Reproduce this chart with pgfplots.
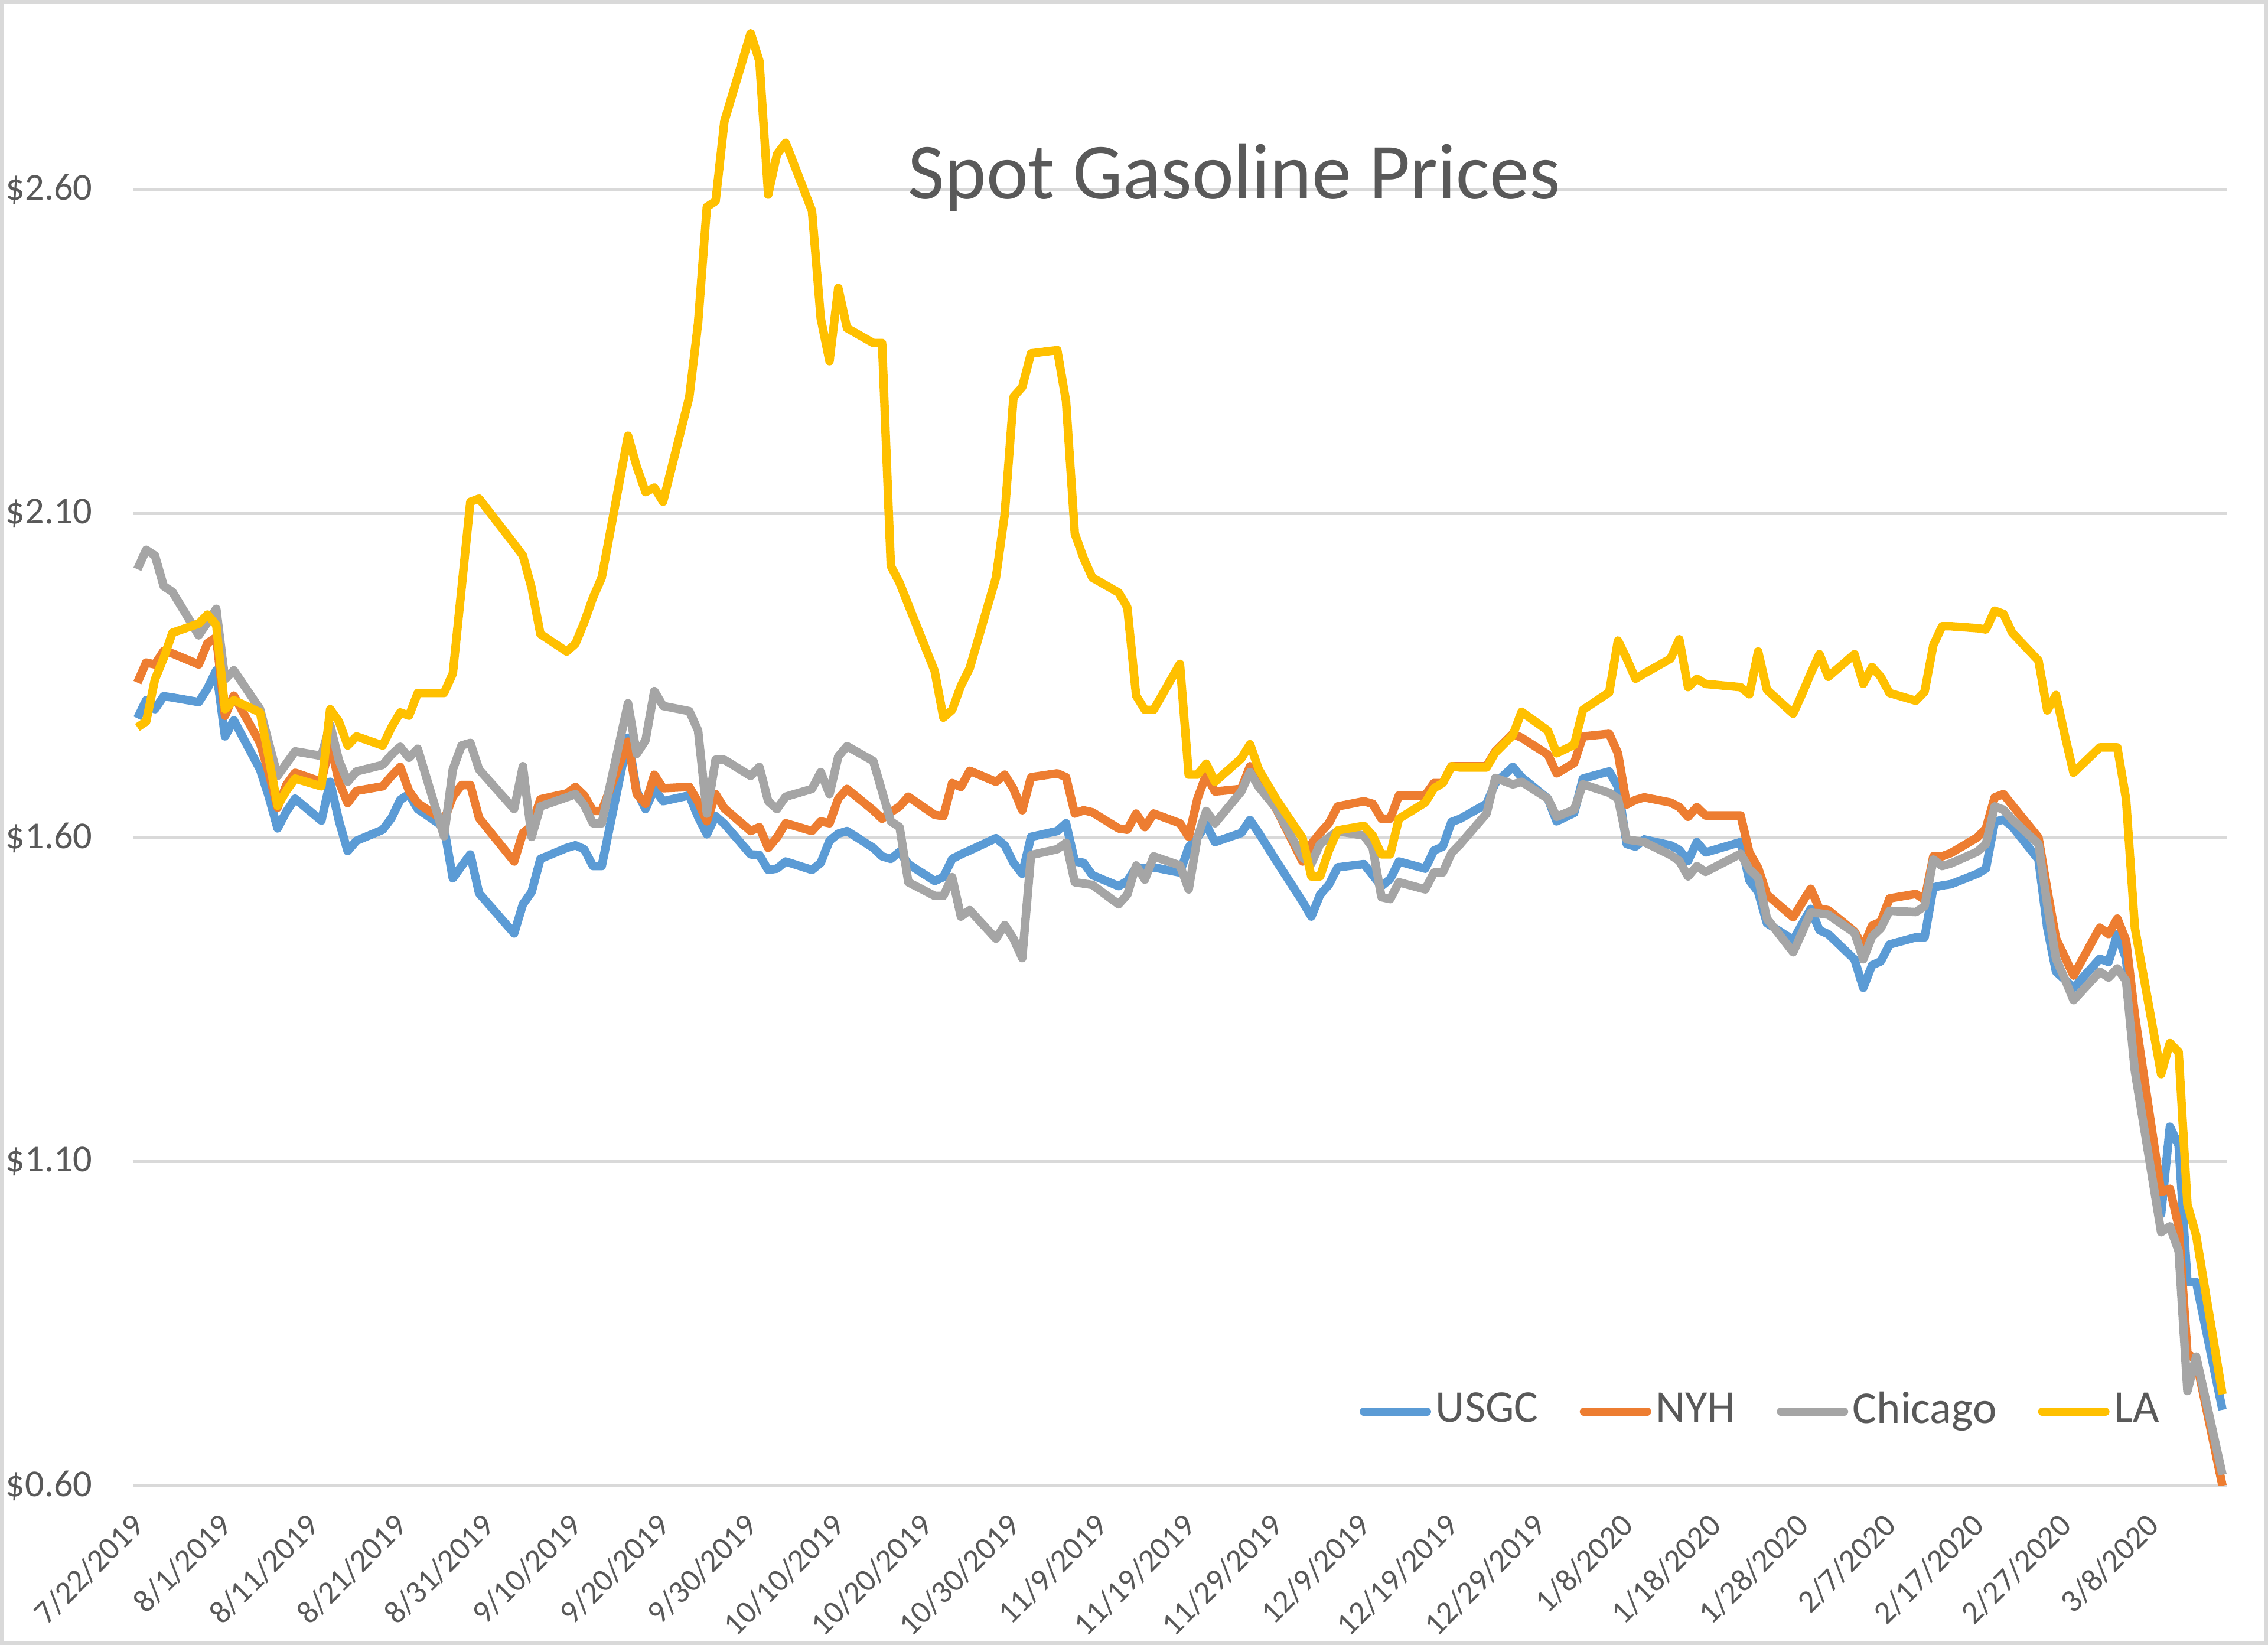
\documentclass[border=0pt]{standalone}
\usepackage{fontspec}
\setmainfont{Carlito}
\usepackage{pgfplots}
\usepackage{pgfplotstable}
\pgfplotsset{compat=1.18}
\definecolor{cUSGC}{HTML}{5B9BD5}
\definecolor{cNYH}{HTML}{ED7D31}
\definecolor{cCHI}{HTML}{A5A5A5}
\definecolor{cLA}{HTML}{FFC000}
\definecolor{txtc}{HTML}{595959}
\definecolor{gridc}{HTML}{D9D9D9}

\pgfplotstableread{
day usgc nyh chi la
0 1.784 1.839 2.014 1.770
1 1.812 1.870 2.044 1.779
2 1.798 1.867 2.035 1.844
3 1.818 1.888 1.988 1.877
4 1.816 1.884 1.979 1.916
7 1.809 1.867 1.912 1.930
8 1.830 1.900 1.932 1.944
9 1.858 1.909 1.953 1.928
10 1.756 1.788 1.844 1.798
11 1.781 1.819 1.858 1.812
14 1.705 1.746 1.798 1.793
15 1.663 1.700 1.746 1.723
16 1.614 1.646 1.695 1.649
17 1.640 1.681 1.714 1.672
18 1.660 1.700 1.733 1.691
21 1.626 1.686 1.726 1.679
22 1.686 1.746 1.774 1.798
23 1.626 1.686 1.719 1.779
24 1.579 1.653 1.686 1.742
25 1.595 1.672 1.702 1.756
28 1.612 1.679 1.712 1.742
29 1.630 1.695 1.728 1.770
30 1.658 1.709 1.740 1.793
31 1.667 1.672 1.723 1.788
32 1.644 1.653 1.737 1.823
35 1.616 1.626 1.602 1.823
36 1.537 1.663 1.705 1.853
37 1.556 1.681 1.742 1.985
38 1.574 1.681 1.746 2.118
39 1.514 1.630 1.705 2.123
43 1.452 1.563 1.644 2.053
44 1.497 1.607 1.710 2.035
45 1.516 1.618 1.601 1.985
46 1.567 1.659 1.648 1.914
49 1.584 1.668 1.662 1.887
50 1.588 1.678 1.667 1.899
51 1.582 1.665 1.650 1.932
52 1.556 1.641 1.622 1.970
53 1.556 1.641 1.622 2.001
56 1.754 1.748 1.807 2.220
57 1.671 1.667 1.729 2.172
58 1.644 1.652 1.750 2.133
59 1.675 1.697 1.826 2.140
60 1.656 1.676 1.803 2.118
63 1.665 1.678 1.795 2.280
64 1.632 1.655 1.765 2.394
65 1.605 1.625 1.637 2.573
66 1.633 1.667 1.720 2.582
67 1.621 1.645 1.720 2.705
70 1.574 1.610 1.695 2.841
71 1.573 1.616 1.709 2.798
72 1.550 1.584 1.656 2.592
73 1.552 1.600 1.644 2.654
74 1.563 1.622 1.663 2.672
77 1.550 1.610 1.675 2.567
78 1.561 1.625 1.701 2.401
79 1.595 1.622 1.667 2.335
80 1.606 1.660 1.725 2.448
81 1.610 1.675 1.741 2.386
84 1.584 1.642 1.718 2.363
85 1.571 1.629 1.671 2.363
86 1.567 1.639 1.625 2.019
87 1.578 1.648 1.616 1.993
88 1.559 1.663 1.531 1.959
91 1.533 1.635 1.510 1.857
92 1.539 1.633 1.510 1.785
93 1.567 1.684 1.539 1.797
94 1.574 1.678 1.478 1.834
95 1.580 1.703 1.488 1.861
98 1.599 1.686 1.444 2.001
99 1.588 1.697 1.465 2.099
100 1.561 1.675 1.444 2.280
101 1.544 1.642 1.414 2.295
102 1.601 1.693 1.573 2.347
105 1.610 1.699 1.582 2.352
106 1.622 1.693 1.592 2.273
107 1.563 1.637 1.531 2.069
108 1.561 1.642 1.529 2.031
109 1.542 1.639 1.527 2.001
112 1.525 1.614 1.497 1.978
113 1.533 1.612 1.512 1.955
114 1.554 1.637 1.557 1.819
115 1.552 1.616 1.535 1.797
116 1.554 1.637 1.571 1.797
119 1.546 1.622 1.557 1.868
120 1.585 1.601 1.520 1.697
121 1.600 1.660 1.600 1.697
122 1.620 1.697 1.641 1.714
123 1.593 1.671 1.622 1.686
126 1.607 1.675 1.671 1.722
127 1.627 1.710 1.701 1.744
128 1.607 1.686 1.678 1.705
130 1.564 1.644 1.645 1.659
133 1.501 1.563 1.569 1.599
134 1.478 1.590 1.560 1.540
135 1.512 1.607 1.590 1.540
136 1.527 1.622 1.600 1.580
137 1.554 1.648 1.610 1.611
140 1.559 1.656 1.603 1.618
141 1.542 1.652 1.584 1.603
142 1.525 1.629 1.508 1.574
143 1.536 1.629 1.505 1.574
144 1.563 1.665 1.531 1.629
147 1.552 1.665 1.520 1.654
148 1.580 1.684 1.546 1.676
149 1.586 1.684 1.546 1.684
150 1.624 1.710 1.576 1.710
151 1.629 1.710 1.590 1.708
154 1.652 1.710 1.637 1.708
155 1.684 1.733 1.692 1.731
157 1.709 1.760 1.682 1.758
158 1.693 1.754 1.686 1.794
161 1.660 1.728 1.660 1.765
162 1.625 1.699 1.632 1.730
164 1.638 1.715 1.643 1.743
165 1.691 1.756 1.682 1.797
168 1.702 1.760 1.669 1.824
169 1.678 1.730 1.660 1.904
170 1.590 1.651 1.597 1.876
171 1.586 1.658 1.595 1.845
172 1.597 1.662 1.593 1.853
175 1.588 1.654 1.573 1.876
176 1.581 1.647 1.564 1.906
177 1.564 1.632 1.540 1.832
178 1.593 1.647 1.556 1.845
179 1.577 1.634 1.547 1.837
183 1.593 1.634 1.575 1.832
184 1.534 1.577 1.551 1.821
185 1.516 1.553 1.538 1.887
186 1.468 1.512 1.475 1.828
189 1.442 1.477 1.423 1.791
190 1.466 1.499 1.453 1.821
191 1.490 1.521 1.484 1.853
192 1.457 1.490 1.483 1.883
193 1.451 1.488 1.481 1.848
196 1.412 1.455 1.453 1.883
197 1.368 1.431 1.412 1.837
198 1.403 1.464 1.447 1.863
199 1.409 1.470 1.460 1.848
200 1.435 1.506 1.487 1.823
203 1.446 1.513 1.485 1.811
204 1.446 1.504 1.494 1.825
205 1.523 1.571 1.566 1.897
206 1.526 1.571 1.556 1.926
207 1.528 1.576 1.560 1.926
210 1.544 1.600 1.578 1.923
211 1.552 1.614 1.590 1.921
212 1.624 1.662 1.648 1.950
213 1.628 1.667 1.643 1.945
214 1.617 1.650 1.628 1.916
217 1.566 1.600 1.590 1.873
218 1.461 1.520 1.497 1.796
219 1.393 1.444 1.413 1.820
220 1.381 1.416 1.382 1.758
221 1.368 1.387 1.349 1.700
224 1.413 1.461 1.393 1.739
225 1.408 1.451 1.384 1.739
226 1.451 1.475 1.398 1.739
227 1.413 1.441 1.379 1.659
228 1.259 1.326 1.240 1.461
231 1.019 1.053 0.991 1.235
232 1.154 1.058 1.000 1.283
233 1.125 1.000 0.962 1.269
234 0.914 0.804 0.746 1.034
235 0.914 0.794 0.799 0.986
238 0.717 0.600 0.617 0.741
}\gas

\begin{document}
\begin{tikzpicture}
\begin{axis}[
  name=ax,
  at={(0pt,0pt)}, anchor=south west,
  scale only axis,
  width=369.4pt, height=260.6pt,
  xmin=-0.54, xmax=238.54, ymin=0.6, ymax=2.88,
  axis line style={draw=none},
  major tick length=0pt,
  ytick={0.6,1.1,1.6,2.1,2.6},
  yticklabels={\$0.60,\$1.10,\$1.60,\$2.10,\$2.60},
  xtick={0,10,...,230},
  xticklabels={7/22/2019,8/1/2019,8/11/2019,8/21/2019,8/31/2019,9/10/2019,9/20/2019,9/30/2019,10/10/2019,10/20/2019,10/30/2019,11/9/2019,11/19/2019,11/29/2019,12/9/2019,12/19/2019,12/29/2019,1/8/2020,1/18/2020,1/28/2020,2/7/2020,2/17/2020,2/27/2020,3/8/2020},
  ymajorgrids,
  grid style={gridc, line width=0.6pt},
  yticklabel style={font=\fontsize{6.7}{8}\selectfont, text=txtc, anchor=east, inner sep=0pt, xshift=-6.9pt},
  xticklabel style={font=\fontsize{5.7}{6.8}\selectfont, text=txtc, inner sep=0pt, anchor=east, xshift=0.3pt, yshift=-5.9pt, rotate=45},
  legend style={at={(0.7778,0.05)}, anchor=center, draw=none, fill=none,
    legend columns=4, font=\fontsize{8}{9.6}\selectfont, text=txtc,
    inner sep=0pt, nodes={inner sep=0.8pt},
    /tikz/every even column/.append style={column sep=6.5pt}},
  legend image code/.code={\draw[#1, line width=1.4pt, line cap=round] (0pt,0pt) -- (11.2pt,0pt);},
  every axis plot/.append style={line width=1.5pt, line join=round, mark=none},
]
\addplot[cUSGC] table[x=day, y=usgc]{\gas};
\addplot[cNYH] table[x=day, y=nyh]{\gas};
\addplot[cCHI] table[x=day, y=chi]{\gas};
\addplot[cLA] table[x=day, y=la]{\gas};
\legend{USGC,NYH,Chicago,LA}
\node[font=\fontsize{14}{17}\selectfont, text=txtc, anchor=base] at (rel axis cs:0.526,0.871) {Spot Gasoline Prices};
\end{axis}
\pgfresetboundingbox
\path[use as bounding box] (-23.4pt,-28.1pt) rectangle (376.6pt,262.0pt);
\draw[gridc, line width=0.6pt] (-23.1pt,-27.8pt) rectangle (376.3pt,261.7pt);
\end{tikzpicture}
\end{document}
